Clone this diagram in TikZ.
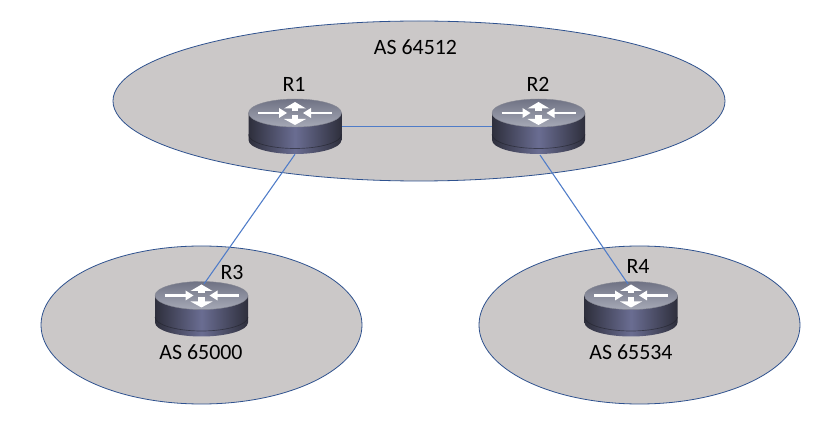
\documentclass[tikz,border=0pt]{standalone}
\usepackage{fontspec}
\setmainfont{Carlito}
\usetikzlibrary{arrows.meta}
\definecolor{areafill}{HTML}{CBC8C8}
\definecolor{arealine}{HTML}{2F528F}
\definecolor{linkline}{HTML}{4F7CC8}
\definecolor{bodydark}{HTML}{2E2F3C}
\definecolor{bodymid}{HTML}{6A6D92}
\definecolor{topa}{HTML}{6F7284}
\definecolor{topb}{HTML}{A6A9B6}
\tikzset{
  x=0.75pt,y=-0.75pt,
  area/.style={draw=arealine,line width=0.6pt,fill=areafill},
  link/.style={draw=linkline,line width=0.8pt},
  routerbox/.style={rectangle,minimum width=69.75pt,minimum height=41.25pt,inner sep=0pt},
  lbl/.style={font=\fontsize{16.4}{20}\selectfont,text=black,inner sep=0pt},
  wa/.style={draw=white,line width=2pt,line cap=butt},
  wh/.style={fill=white,draw=none}
}
\newcommand{\routerart}[1]{%
  \begin{scope}[shift={(#1.center)}]
    \path[left color=bodydark,right color=bodydark,middle color=bodymid]
      (-46.5,-13.5) -- (-46.5,13.5) arc[start angle=180,end angle=360,x radius=46.5*0.75pt,y radius=14*0.75pt]
      -- (46.5,-13.5) -- cycle;
    \draw[bodydark!70!black,line width=0.5pt,opacity=0.6]
      (-46.5,8) arc[start angle=180,end angle=360,x radius=46.5*0.75pt,y radius=14*0.75pt];
    \path[top color=topa,bottom color=topb,draw=topb!80!black,line width=0.3pt]
      (0,-13.5) ellipse[x radius=46.5*0.75pt,y radius=14*0.75pt];
    \draw[wa] (-37,-13.5) -- (-15,-13.5);
    \path[wh] (-8,-13.5) -- (-16,-18.5) -- (-16,-8.5) -- cycle;
    \draw[wa] (37,-13.5) -- (15,-13.5);
    \path[wh] (8,-13.5) -- (16,-18.5) -- (16,-8.5) -- cycle;
    \draw[wa,line width=5pt] (0,-18.5) -- (0,-15.5);
    \path[wh] (0,-24.5) -- (-11,-18) -- (11,-18) -- cycle;
    \draw[wa,line width=5pt] (0,-11.5) -- (0,-7);
    \path[wh] (0,-1.5) -- (-11,-7.5) -- (11,-7.5) -- cycle;
  \end{scope}}
\begin{document}
\begin{tikzpicture}
\useasboundingbox (0,0) rectangle (833,431);
\fill[white] (0,0) rectangle (833,431);
% Areas
\draw[area] (419,101) ellipse[x radius=306*0.75pt,y radius=80*0.75pt];
\draw[area] (201.5,325) ellipse[x radius=160.5*0.75pt,y radius=79*0.75pt];
\draw[area] (639.5,325) ellipse[x radius=160.5*0.75pt,y radius=79*0.75pt];
% Routers
\node[routerbox] (r1) at (295,126.5) {};
\node[routerbox] (r2) at (538.5,126.5) {};
\node[routerbox] (r3) at (201.5,309) {};
\node[routerbox] (r4) at (631,309) {};
\routerart{r1}\routerart{r2}\routerart{r3}\routerart{r4}
% Links
\coordinate (r3top) at (204,284);
\coordinate (r4top) at (628,284);
\coordinate (r2foot) at (540,155);
\draw[link] (r1.east) -- (r2.west);
\draw[link] (r1.south) -- (r3top);
\draw[link] (r2foot) -- (r4top);
% Labels
\node[lbl] (t1) at (415.5,47) {AS 64512};
\node[lbl] (t2) at (201,352) {AS 65000};
\node[lbl] (t3) at (631,352) {AS 65534};
\node[lbl] (l1) at (294,84) {R1};
\node[lbl] (l2) at (538,84) {R2};
\node[lbl] (l3) at (232,272) {R3};
\node[lbl] (l4) at (638,266) {R4};
\end{tikzpicture}
\end{document}
